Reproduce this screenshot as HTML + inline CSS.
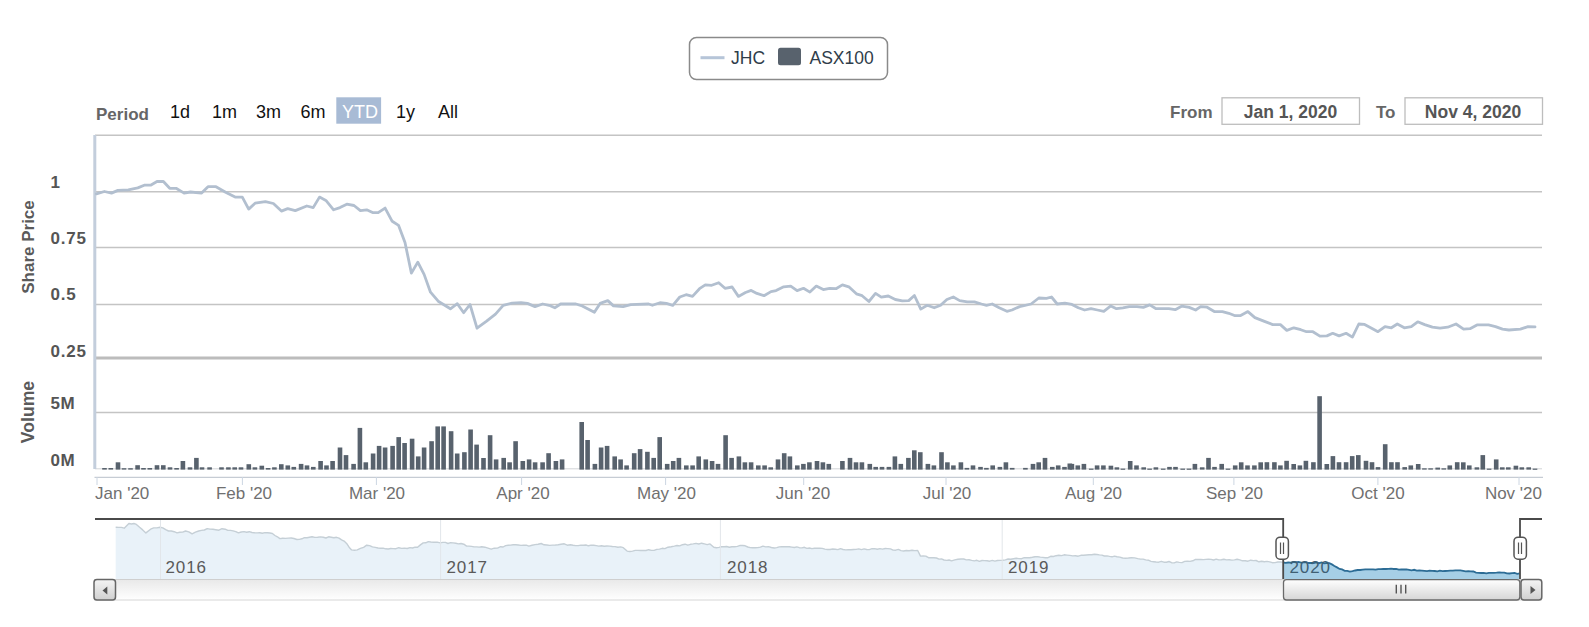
<!DOCTYPE html>
<html><head><meta charset="utf-8"><style>
html,body{margin:0;padding:0;background:#fff;}
body{width:1589px;height:627px;overflow:hidden;position:relative;font-family:"Liberation Sans", sans-serif;}
svg{position:absolute;left:0;top:0;}
text{font-family:"Liberation Sans", sans-serif;}
</style></head><body>
<svg width="1589" height="627" viewBox="0 0 1589 627">
<defs>
<linearGradient id="sbg" x1="0" y1="0" x2="0" y2="1"><stop offset="0" stop-color="#e8e8e8"/><stop offset="1" stop-color="#ffffff"/></linearGradient>
<linearGradient id="thumb" x1="0" y1="0" x2="0" y2="1"><stop offset="0" stop-color="#ffffff"/><stop offset="1" stop-color="#d6d6d6"/></linearGradient>
<linearGradient id="btn" x1="0" y1="0" x2="0" y2="1"><stop offset="0" stop-color="#f4f4f4"/><stop offset="1" stop-color="#d0d0d0"/></linearGradient>
</defs>
<!-- legend -->
<rect x="689.5" y="37.5" width="198" height="42" rx="7" ry="7" fill="#fff" stroke="#8a8a8a" stroke-width="1.5"/>
<line x1="700.5" y1="57.7" x2="724.5" y2="57.7" stroke="#b6c5d8" stroke-width="3"/>
<text x="731" y="64" font-size="17.5" fill="#2f3d4a">JHC</text>
<rect x="778" y="47.7" width="23" height="17.6" rx="2.5" fill="#58626d"/>
<text x="809.5" y="64" font-size="17.5" fill="#2f3d4a">ASX100</text>
<!-- range selector -->
<text x="96" y="119.5" font-size="17" font-weight="bold" fill="#666">Period</text>
<rect x="336.3" y="97.3" width="44.8" height="26.4" fill="#a8bbd5"/>
<text x="170" y="117.7" font-size="18" fill="#111">1d</text>
<text x="212" y="117.7" font-size="18" fill="#111">1m</text>
<text x="256" y="117.7" font-size="18" fill="#111">3m</text>
<text x="300.5" y="117.7" font-size="18" fill="#111">6m</text>
<text x="342" y="117.7" font-size="18" fill="#fff">YTD</text>
<text x="396" y="117.7" font-size="18" fill="#111">1y</text>
<text x="438" y="117.7" font-size="18" fill="#111">All</text>
<text x="1170" y="117.8" font-size="17" font-weight="bold" fill="#666">From</text>
<rect x="1222" y="97.8" width="137.5" height="26.5" fill="#fff" stroke="#bdbdbd" stroke-width="1.3"/>
<text x="1290.5" y="117.8" font-size="17.5" font-weight="bold" fill="#555" text-anchor="middle">Jan 1, 2020</text>
<text x="1376" y="117.8" font-size="17" font-weight="bold" fill="#666">To</text>
<rect x="1405" y="97.8" width="137.5" height="26.5" fill="#fff" stroke="#bdbdbd" stroke-width="1.3"/>
<text x="1473" y="117.8" font-size="17.5" font-weight="bold" fill="#555" text-anchor="middle">Nov 4, 2020</text>
<!-- plot frame & grid -->
<line x1="95" y1="135.2" x2="1542" y2="135.2" stroke="#c4c4c4" stroke-width="1.5"/>
<line x1="95" y1="191.8" x2="1542" y2="191.8" stroke="#c4c4c4" stroke-width="1.5"/>
<line x1="95" y1="247.6" x2="1542" y2="247.6" stroke="#c4c4c4" stroke-width="1.5"/>
<line x1="95" y1="304.5" x2="1542" y2="304.5" stroke="#c4c4c4" stroke-width="1.5"/>
<line x1="95" y1="358" x2="1542" y2="358" stroke="#bcbcbc" stroke-width="3"/>
<line x1="95" y1="412.6" x2="1542" y2="412.6" stroke="#c4c4c4" stroke-width="1.5"/>
<line x1="95" y1="468.8" x2="1542" y2="468.8" stroke="#d2d4d8" stroke-width="1"/>
<line x1="94.8" y1="135" x2="94.8" y2="469" stroke="#c3cedc" stroke-width="3"/>
<!-- price line -->
<polyline points="96.4,193.9 104.4,191.5 111.5,193.1 117.9,190.4 128.3,189.9 137.8,187.9 144.2,185.2 150.6,185.2 157.0,181.5 163.4,181.5 169.7,188.3 176.1,188.3 184.1,193.1 190.5,192.0 201.6,193.1 208.0,186.7 216.0,186.7 225.6,192.3 235.1,197.1 242.3,197.1 248.7,209.1 255.1,203.2 265.4,201.6 273.4,203.5 281.4,211.1 287.7,208.6 295.3,210.6 306.8,206.0 313.2,207.6 319.5,197.1 325.9,200.4 333.6,209.8 340.0,207.6 346.8,204.2 354.0,205.5 360.4,210.6 366.7,209.8 373.1,212.7 378.2,212.7 385.1,208.1 392.2,221.3 398.6,225.4 405.0,242.5 411.4,273.1 417.8,262.1 424.1,274.4 430.5,292.2 438.2,301.2 450.4,308.8 457.3,303.7 463.7,312.7 470.0,304.5 477.0,328.2 486.6,321.2 495.5,314.2 503.2,305.3 512.1,303.1 521.0,302.7 527.4,303.4 535.0,306.6 542.7,304.0 549.1,305.3 554.8,307.8 560.6,304.0 575.9,304.0 582.2,305.9 594.4,312.3 600.1,303.4 607.8,300.6 613.5,305.9 623.1,306.6 630.7,304.6 648.6,304.0 652.4,305.3 660.0,302.7 666.4,303.4 672.8,305.3 679.8,297.0 686.1,294.7 692.5,296.4 699.5,288.7 705.3,284.9 711.7,285.3 718.7,282.7 725.0,288.3 732.1,287.0 738.4,296.4 745.5,292.5 751.2,290.4 756.9,293.4 764.0,295.7 771.0,291.6 776.1,290.6 783.7,286.8 790.7,286.1 797.1,290.6 803.5,288.3 809.9,292.1 816.3,286.1 823.3,289.6 829.6,288.3 836.0,288.7 842.4,284.9 848.8,286.8 856.4,293.8 862.1,295.7 868.9,301.5 875.5,293.4 881.3,297.2 888.3,296.0 895.3,299.5 902.3,300.8 908.7,300.6 914.4,295.5 920.8,309.1 927.2,305.3 934.2,307.8 940.6,305.3 946.9,299.5 953.3,297.0 959.7,300.6 967.3,301.8 974.4,301.8 981.4,304.0 986.5,305.3 992.2,304.0 999.2,307.8 1006.9,311.3 1012.0,310.0 1019.6,306.6 1031.1,304.0 1038.8,298.0 1046.4,298.3 1051.5,297.0 1057.2,304.0 1064.9,303.1 1071.9,304.4 1078.3,307.8 1084.6,310.0 1091.0,308.7 1097.4,310.0 1103.8,311.3 1110.8,305.9 1116.5,308.7 1122.9,307.8 1129.3,306.6 1136.9,306.6 1143.3,307.4 1149.7,304.9 1156.1,308.7 1168.8,308.7 1175.2,309.7 1181.6,306.2 1189.2,307.4 1195.6,310.0 1200.7,306.6 1207.1,307.2 1214.7,311.7 1222.4,311.7 1228.8,313.3 1235.1,315.7 1240.2,315.7 1247.9,311.6 1254.9,317.6 1263.8,321.1 1272.7,324.6 1280.4,324.6 1286.8,330.4 1293.8,327.8 1300.8,329.7 1306.5,331.7 1312.9,331.7 1319.9,336.1 1326.9,335.9 1332.7,333.3 1339.1,335.9 1346.1,333.3 1352.4,337.1 1358.8,324.0 1364.6,324.4 1371.6,328.2 1378.0,331.7 1385.0,326.6 1391.4,327.8 1397.3,324.0 1404.3,327.8 1411.3,326.6 1417.7,321.8 1424.7,324.6 1432.4,327.2 1440.0,328.2 1447.7,327.2 1456.0,324.0 1463.6,329.1 1470.0,328.7 1477.0,324.9 1488.5,324.9 1495.5,326.6 1502.5,329.1 1508.9,330.0 1520.4,329.1 1528.0,326.6 1535.0,326.9" fill="none" stroke="#b2bfcf" stroke-width="2.8" stroke-linejoin="round" stroke-linecap="round"/>
<!-- volume -->
<g fill="#58626d"><rect x="102.2" y="468.0" width="4.6" height="1.6"/><rect x="108.5" y="468.0" width="4.6" height="1.6"/><rect x="115.7" y="462.3" width="4.6" height="7.3"/><rect x="121.7" y="468.2" width="4.6" height="1.4"/><rect x="128.2" y="468.2" width="4.6" height="1.4"/><rect x="135.3" y="465.2" width="4.6" height="4.4"/><rect x="141.2" y="468.0" width="4.6" height="1.6"/><rect x="147.5" y="468.0" width="4.6" height="1.6"/><rect x="154.7" y="465.2" width="4.6" height="4.4"/><rect x="161.0" y="465.2" width="4.6" height="4.4"/><rect x="167.7" y="467.3" width="4.6" height="2.3"/><rect x="174.3" y="468.0" width="4.6" height="1.6"/><rect x="180.6" y="461.0" width="4.6" height="8.6"/><rect x="187.7" y="467.3" width="4.6" height="2.3"/><rect x="194.1" y="457.9" width="4.6" height="11.7"/><rect x="199.7" y="467.3" width="4.6" height="2.3"/><rect x="207.3" y="467.3" width="4.6" height="2.3"/><rect x="219.2" y="467.3" width="4.6" height="2.3"/><rect x="226.1" y="467.3" width="4.6" height="2.3"/><rect x="232.4" y="467.3" width="4.6" height="2.3"/><rect x="238.7" y="467.3" width="4.6" height="2.3"/><rect x="246.5" y="464.2" width="4.6" height="5.4"/><rect x="252.6" y="467.3" width="4.6" height="2.3"/><rect x="259.5" y="465.7" width="4.6" height="3.9"/><rect x="265.8" y="468.0" width="4.6" height="1.6"/><rect x="272.1" y="467.3" width="4.6" height="2.3"/><rect x="279.0" y="464.2" width="4.6" height="5.4"/><rect x="285.5" y="465.4" width="4.6" height="4.2"/><rect x="291.5" y="466.9" width="4.6" height="2.7"/><rect x="298.8" y="463.9" width="4.6" height="5.7"/><rect x="304.7" y="465.4" width="4.6" height="4.2"/><rect x="311.0" y="466.9" width="4.6" height="2.7"/><rect x="318.3" y="461.0" width="4.6" height="8.6"/><rect x="324.2" y="465.4" width="4.6" height="4.2"/><rect x="330.3" y="461.0" width="4.6" height="8.6"/><rect x="337.7" y="447.5" width="4.6" height="22.1"/><rect x="343.7" y="455.1" width="4.6" height="14.5"/><rect x="351.3" y="463.9" width="4.6" height="5.7"/><rect x="357.6" y="427.9" width="4.6" height="41.7"/><rect x="363.5" y="462.3" width="4.6" height="7.3"/><rect x="370.8" y="453.5" width="4.6" height="16.1"/><rect x="376.8" y="445.9" width="4.6" height="23.7"/><rect x="382.8" y="447.5" width="4.6" height="22.1"/><rect x="390.3" y="445.9" width="4.6" height="23.7"/><rect x="396.4" y="437.1" width="4.6" height="32.5"/><rect x="402.3" y="443.0" width="4.6" height="26.6"/><rect x="409.8" y="438.7" width="4.6" height="30.9"/><rect x="415.9" y="456.4" width="4.6" height="13.2"/><rect x="421.8" y="447.5" width="4.6" height="22.1"/><rect x="429.3" y="441.2" width="4.6" height="28.4"/><rect x="435.4" y="426.4" width="4.6" height="43.2"/><rect x="441.3" y="426.4" width="4.6" height="43.2"/><rect x="448.8" y="431.2" width="4.6" height="38.4"/><rect x="454.9" y="453.5" width="4.6" height="16.1"/><rect x="462.1" y="452.2" width="4.6" height="17.4"/><rect x="468.3" y="429.5" width="4.6" height="40.1"/><rect x="474.3" y="444.6" width="4.6" height="25.0"/><rect x="481.2" y="458.0" width="4.6" height="11.6"/><rect x="487.8" y="435.2" width="4.6" height="34.4"/><rect x="493.8" y="459.4" width="4.6" height="10.2"/><rect x="501.4" y="457.9" width="4.6" height="11.7"/><rect x="507.3" y="462.3" width="4.6" height="7.3"/><rect x="513.3" y="441.2" width="4.6" height="28.4"/><rect x="520.5" y="461.0" width="4.6" height="8.6"/><rect x="526.8" y="459.4" width="4.6" height="10.2"/><rect x="532.8" y="462.3" width="4.6" height="7.3"/><rect x="540.3" y="462.3" width="4.6" height="7.3"/><rect x="546.3" y="453.2" width="4.6" height="16.4"/><rect x="553.6" y="461.0" width="4.6" height="8.6"/><rect x="559.8" y="459.4" width="4.6" height="10.2"/><rect x="579.4" y="422.0" width="4.6" height="47.6"/><rect x="585.3" y="440.0" width="4.6" height="29.6"/><rect x="592.6" y="463.9" width="4.6" height="5.7"/><rect x="598.8" y="447.5" width="4.6" height="22.1"/><rect x="604.8" y="445.9" width="4.6" height="23.7"/><rect x="612.4" y="456.4" width="4.6" height="13.2"/><rect x="618.3" y="459.4" width="4.6" height="10.2"/><rect x="624.3" y="465.4" width="4.6" height="4.2"/><rect x="631.9" y="453.2" width="4.6" height="16.4"/><rect x="637.8" y="449.1" width="4.6" height="20.5"/><rect x="645.1" y="451.8" width="4.6" height="17.8"/><rect x="651.4" y="457.9" width="4.6" height="11.7"/><rect x="657.4" y="437.1" width="4.6" height="32.5"/><rect x="664.9" y="463.9" width="4.6" height="5.7"/><rect x="670.9" y="461.0" width="4.6" height="8.6"/><rect x="676.6" y="457.9" width="4.6" height="11.7"/><rect x="684.0" y="465.4" width="4.6" height="4.2"/><rect x="690.3" y="465.4" width="4.6" height="4.2"/><rect x="696.4" y="456.4" width="4.6" height="13.2"/><rect x="703.5" y="459.4" width="4.6" height="10.2"/><rect x="709.8" y="461.0" width="4.6" height="8.6"/><rect x="715.7" y="463.9" width="4.6" height="5.7"/><rect x="723.3" y="435.2" width="4.6" height="34.4"/><rect x="729.3" y="457.9" width="4.6" height="11.7"/><rect x="736.6" y="456.4" width="4.6" height="13.2"/><rect x="742.6" y="462.3" width="4.6" height="7.3"/><rect x="748.8" y="462.3" width="4.6" height="7.3"/><rect x="756.0" y="465.4" width="4.6" height="4.2"/><rect x="762.3" y="465.4" width="4.6" height="4.2"/><rect x="768.4" y="467.3" width="4.6" height="2.3"/><rect x="775.7" y="459.4" width="4.6" height="10.2"/><rect x="781.9" y="453.2" width="4.6" height="16.4"/><rect x="787.6" y="456.4" width="4.6" height="13.2"/><rect x="795.0" y="465.4" width="4.6" height="4.2"/><rect x="801.1" y="463.9" width="4.6" height="5.7"/><rect x="807.1" y="462.3" width="4.6" height="7.3"/><rect x="814.7" y="461.0" width="4.6" height="8.6"/><rect x="820.6" y="462.3" width="4.6" height="7.3"/><rect x="826.5" y="463.9" width="4.6" height="5.7"/><rect x="840.1" y="461.0" width="4.6" height="8.6"/><rect x="847.7" y="457.9" width="4.6" height="11.7"/><rect x="853.7" y="462.3" width="4.6" height="7.3"/><rect x="859.6" y="462.3" width="4.6" height="7.3"/><rect x="867.5" y="463.9" width="4.6" height="5.7"/><rect x="873.4" y="466.9" width="4.6" height="2.7"/><rect x="879.7" y="466.9" width="4.6" height="2.7"/><rect x="886.6" y="466.9" width="4.6" height="2.7"/><rect x="892.6" y="456.4" width="4.6" height="13.2"/><rect x="898.5" y="463.9" width="4.6" height="5.7"/><rect x="906.1" y="457.9" width="4.6" height="11.7"/><rect x="912.0" y="450.3" width="4.6" height="19.3"/><rect x="918.0" y="452.2" width="4.6" height="17.4"/><rect x="925.6" y="463.9" width="4.6" height="5.7"/><rect x="931.6" y="465.4" width="4.6" height="4.2"/><rect x="939.2" y="452.2" width="4.6" height="17.4"/><rect x="945.1" y="462.3" width="4.6" height="7.3"/><rect x="951.1" y="465.4" width="4.6" height="4.2"/><rect x="958.6" y="462.3" width="4.6" height="7.3"/><rect x="964.6" y="467.9" width="4.6" height="1.7"/><rect x="970.7" y="465.4" width="4.6" height="4.2"/><rect x="978.2" y="466.9" width="4.6" height="2.7"/><rect x="984.1" y="467.9" width="4.6" height="1.7"/><rect x="990.4" y="465.4" width="4.6" height="4.2"/><rect x="997.6" y="466.9" width="4.6" height="2.7"/><rect x="1003.6" y="462.3" width="4.6" height="7.3"/><rect x="1009.9" y="467.9" width="4.6" height="1.7"/><rect x="1023.1" y="467.9" width="4.6" height="1.7"/><rect x="1030.7" y="463.9" width="4.6" height="5.7"/><rect x="1036.4" y="462.3" width="4.6" height="7.3"/><rect x="1042.7" y="457.9" width="4.6" height="11.7"/><rect x="1050.0" y="466.9" width="4.6" height="2.7"/><rect x="1055.9" y="465.4" width="4.6" height="4.2"/><rect x="1062.2" y="466.9" width="4.6" height="2.7"/><rect x="1067.5" y="463.5" width="4.6" height="6.1"/><rect x="1069.6" y="463.9" width="4.6" height="5.7"/><rect x="1075.5" y="465.4" width="4.6" height="4.2"/><rect x="1081.6" y="463.9" width="4.6" height="5.7"/><rect x="1088.9" y="468.6" width="4.6" height="1.2"/><rect x="1094.8" y="465.4" width="4.6" height="4.2"/><rect x="1101.1" y="465.4" width="4.6" height="4.2"/><rect x="1108.6" y="465.7" width="4.6" height="3.9"/><rect x="1114.6" y="467.3" width="4.6" height="2.3"/><rect x="1120.6" y="468.6" width="4.6" height="1.2"/><rect x="1127.9" y="461.0" width="4.6" height="8.6"/><rect x="1134.2" y="465.4" width="4.6" height="4.2"/><rect x="1141.4" y="467.3" width="4.6" height="2.3"/><rect x="1147.3" y="468.6" width="4.6" height="1.2"/><rect x="1153.6" y="467.3" width="4.6" height="2.3"/><rect x="1160.9" y="468.6" width="4.6" height="1.2"/><rect x="1167.2" y="466.9" width="4.6" height="2.7"/><rect x="1173.2" y="466.9" width="4.6" height="2.7"/><rect x="1180.4" y="468.6" width="4.6" height="1.2"/><rect x="1186.7" y="468.6" width="4.6" height="1.2"/><rect x="1192.6" y="463.9" width="4.6" height="5.7"/><rect x="1199.9" y="467.3" width="4.6" height="2.3"/><rect x="1206.2" y="457.9" width="4.6" height="11.7"/><rect x="1212.2" y="466.9" width="4.6" height="2.7"/><rect x="1219.4" y="463.9" width="4.6" height="5.7"/><rect x="1225.7" y="468.6" width="4.6" height="1.2"/><rect x="1232.9" y="465.4" width="4.6" height="4.2"/><rect x="1238.9" y="462.3" width="4.6" height="7.3"/><rect x="1245.2" y="465.4" width="4.6" height="4.2"/><rect x="1252.1" y="465.4" width="4.6" height="4.2"/><rect x="1258.4" y="462.3" width="4.6" height="7.3"/><rect x="1264.6" y="462.2" width="4.6" height="7.4"/><rect x="1272.1" y="462.2" width="4.6" height="7.4"/><rect x="1278.1" y="465.4" width="4.6" height="4.2"/><rect x="1284.3" y="460.8" width="4.6" height="8.8"/><rect x="1291.4" y="464.0" width="4.6" height="5.6"/><rect x="1297.6" y="465.4" width="4.6" height="4.2"/><rect x="1303.6" y="460.8" width="4.6" height="8.8"/><rect x="1311.1" y="462.2" width="4.6" height="7.4"/><rect x="1317.3" y="396.2" width="4.6" height="73.4"/><rect x="1324.5" y="464.0" width="4.6" height="5.6"/><rect x="1330.6" y="456.1" width="4.6" height="13.5"/><rect x="1336.7" y="462.2" width="4.6" height="7.4"/><rect x="1343.8" y="462.2" width="4.6" height="7.4"/><rect x="1349.9" y="456.1" width="4.6" height="13.5"/><rect x="1356.0" y="455.1" width="4.6" height="14.5"/><rect x="1363.7" y="460.8" width="4.6" height="8.8"/><rect x="1369.7" y="462.2" width="4.6" height="7.4"/><rect x="1375.7" y="467.1" width="4.6" height="2.5"/><rect x="1382.9" y="444.2" width="4.6" height="25.4"/><rect x="1389.1" y="462.2" width="4.6" height="7.4"/><rect x="1395.2" y="462.2" width="4.6" height="7.4"/><rect x="1402.4" y="467.1" width="4.6" height="2.5"/><rect x="1408.5" y="465.4" width="4.6" height="4.2"/><rect x="1415.9" y="464.0" width="4.6" height="5.6"/><rect x="1422.1" y="468.3" width="4.6" height="1.3"/><rect x="1428.3" y="468.3" width="4.6" height="1.3"/><rect x="1435.4" y="467.6" width="4.6" height="2.0"/><rect x="1441.5" y="468.3" width="4.6" height="1.3"/><rect x="1447.5" y="465.4" width="4.6" height="4.2"/><rect x="1454.9" y="462.2" width="4.6" height="7.4"/><rect x="1461.0" y="462.3" width="4.6" height="7.3"/><rect x="1467.0" y="465.4" width="4.6" height="4.2"/><rect x="1474.6" y="467.3" width="4.6" height="2.3"/><rect x="1480.5" y="455.1" width="4.6" height="14.5"/><rect x="1486.8" y="468.6" width="4.6" height="1.2"/><rect x="1493.9" y="459.4" width="4.6" height="10.2"/><rect x="1500.0" y="467.3" width="4.6" height="2.3"/><rect x="1506.0" y="467.3" width="4.6" height="2.3"/><rect x="1513.6" y="465.7" width="4.6" height="3.9"/><rect x="1519.5" y="467.3" width="4.6" height="2.3"/><rect x="1526.4" y="467.3" width="4.6" height="2.3"/><rect x="1532.7" y="468.6" width="4.6" height="1.2"/></g>
<!-- y labels -->
<g font-size="17" font-weight="bold" fill="#555">
<text x="50.5" y="188">1</text>
<text x="50.5" y="244.2" letter-spacing="0.8">0.75</text>
<text x="50.5" y="300" letter-spacing="0.8">0.5</text>
<text x="50.5" y="356.6" letter-spacing="0.8">0.25</text>
<text x="50.5" y="409.2" letter-spacing="0.5">5M</text>
<text x="50.5" y="466" letter-spacing="0.5">0M</text>
</g>
<text transform="translate(34,247) rotate(-90)" font-size="17" font-weight="bold" fill="#5a5a5a" text-anchor="middle">Share Price</text>
<text transform="translate(34,412) rotate(-90)" font-size="17.6" font-weight="bold" fill="#5a5a5a" text-anchor="middle">Volume</text>
<!-- x axis -->
<line x1="94.5" y1="477.4" x2="1543" y2="477.4" stroke="#c6ccd4" stroke-width="1.4"/>
<g stroke="#ccd6e2" stroke-width="1">
<line x1="97" y1="477" x2="97" y2="485"/><line x1="242.4" y1="477" x2="242.4" y2="485"/><line x1="376.4" y1="477" x2="376.4" y2="485"/><line x1="521.6" y1="477" x2="521.6" y2="485"/><line x1="665.6" y1="477" x2="665.6" y2="485"/><line x1="803.7" y1="477" x2="803.7" y2="485"/><line x1="946" y1="477" x2="946" y2="485"/><line x1="1093.3" y1="477" x2="1093.3" y2="485"/><line x1="1233.9" y1="477" x2="1233.9" y2="485"/><line x1="1377.9" y1="477" x2="1377.9" y2="485"/><line x1="1519" y1="477" x2="1519" y2="485"/>
</g>
<g font-size="17" fill="#707070" text-anchor="middle">
<text x="95" y="499" text-anchor="start">Jan '20</text>
<text x="244" y="499">Feb '20</text>
<text x="377" y="499">Mar '20</text>
<text x="523" y="499">Apr '20</text>
<text x="666.5" y="499">May '20</text>
<text x="803" y="499">Jun '20</text>
<text x="947" y="499">Jul '20</text>
<text x="1093.5" y="499">Aug '20</text>
<text x="1234.5" y="499">Sep '20</text>
<text x="1378" y="499">Oct '20</text>
<text x="1542" y="499" text-anchor="end">Nov '20</text>
</g>
<!-- navigator -->
<path d="M115.7,579 L115.7,527.3 L118.5,527.4 L121.4,527.4 L124.2,528.2 L128.9,523.5 L131.4,524.0 L133.9,523.5 L136.4,524.4 L139.6,527.3 L142.7,529.9 L145.9,532.9 L150.6,529.2 L153.7,527.9 L156.9,527.9 L160.0,527.3 L162.8,527.9 L165.7,529.7 L168.5,531.0 L171.3,531.0 L174.2,531.7 L177.0,532.9 L179.8,532.2 L182.7,532.1 L185.5,531.0 L188.8,531.9 L192.1,533.9 L195.4,532.1 L198.7,531.0 L201.5,530.4 L204.4,530.0 L207.2,528.6 L210.0,529.1 L212.9,529.2 L215.7,529.7 L218.9,530.2 L222.0,528.7 L225.2,529.2 L227.8,530.4 L230.5,530.4 L233.1,530.9 L235.8,531.6 L238.4,532.9 L241.2,532.0 L244.0,531.6 L246.7,532.3 L249.3,531.7 L252.0,532.5 L254.6,532.8 L257.3,532.9 L259.8,532.8 L262.3,533.2 L264.9,532.6 L267.4,532.7 L269.9,533.0 L272.4,533.5 L274.9,535.5 L277.4,536.8 L279.9,538.6 L282.7,538.2 L285.5,538.4 L288.4,538.1 L291.2,538.0 L294.0,538.5 L296.9,539.5 L299.4,539.4 L301.9,538.8 L304.4,537.7 L307.0,537.7 L309.5,537.2 L312.0,536.7 L314.8,537.4 L317.6,537.3 L320.5,536.9 L323.3,537.3 L325.9,538.0 L328.6,536.8 L331.2,537.2 L333.9,537.7 L336.5,537.3 L339.0,538.1 L341.6,539.8 L344.1,541.1 L346.6,543.4 L349.1,547.2 L351.6,549.9 L354.5,550.3 L357.3,549.9 L360.4,548.4 L363.6,547.3 L366.7,545.2 L369.6,545.6 L372.4,546.9 L375.2,547.4 L378.1,548.0 L380.6,548.2 L383.1,548.1 L385.6,548.8 L388.2,549.0 L390.7,548.5 L393.2,548.6 L396.0,548.7 L398.8,547.7 L401.6,548.4 L404.4,548.1 L407.2,548.5 L410.0,547.6 L412.5,548.0 L415.1,547.1 L417.6,547.3 L420.4,544.9 L423.2,542.9 L425.7,542.8 L428.3,541.6 L430.8,542.0 L433.9,542.2 L437.1,542.1 L440.2,542.9 L442.8,542.4 L445.4,542.4 L448.0,543.5 L450.6,542.7 L453.2,542.9 L455.8,543.2 L458.4,543.9 L461.0,543.5 L463.8,544.2 L466.6,546.1 L469.1,546.1 L471.6,546.4 L474.1,546.9 L476.7,546.9 L479.2,547.1 L481.7,546.7 L484.9,547.2 L488.0,548.2 L491.2,549.2 L494.3,548.2 L497.5,548.1 L500.6,546.7 L503.1,547.0 L505.6,545.6 L508.2,545.3 L510.7,545.1 L513.2,544.7 L515.7,544.8 L518.3,545.0 L521.0,545.4 L523.6,545.2 L526.3,545.1 L528.9,546.1 L532.0,545.3 L535.0,544.6 L538.1,544.2 L541.2,543.5 L544.0,544.8 L546.9,545.0 L549.7,545.4 L552.5,545.1 L555.4,545.0 L558.2,544.8 L561.0,544.3 L564.2,543.8 L567.3,545.2 L570.5,544.8 L573.1,545.3 L575.6,545.6 L578.2,545.6 L580.8,545.1 L583.4,545.2 L585.9,545.0 L588.5,545.8 L591.1,545.1 L593.7,545.3 L596.2,545.6 L598.8,546.1 L601.5,545.8 L604.2,546.2 L607.0,546.0 L609.7,546.1 L612.4,546.5 L615.1,546.6 L617.9,547.2 L620.6,546.9 L623.3,547.7 L627.1,551.1 L629.8,551.5 L632.5,551.1 L635.2,550.4 L637.9,550.4 L640.6,550.5 L643.3,550.4 L646.0,550.5 L648.7,549.7 L651.4,550.4 L654.1,550.4 L656.8,549.4 L659.5,549.1 L662.2,548.3 L664.9,548.6 L668.0,547.2 L671.2,546.7 L674.3,546.1 L677.0,545.5 L679.7,545.9 L682.4,544.7 L685.1,544.2 L687.8,545.2 L690.5,544.3 L693.2,543.9 L696.0,543.4 L698.8,544.0 L701.6,543.2 L704.4,543.9 L707.2,544.6 L710.0,543.9 L713.8,547.3 L716.4,547.7 L719.0,547.4 L721.6,546.7 L724.1,546.8 L726.7,546.5 L729.3,547.2 L731.9,546.8 L734.5,546.7 L737.4,546.4 L740.2,545.4 L742.7,545.5 L745.2,545.8 L747.8,547.0 L750.3,547.6 L752.8,547.8 L755.3,547.7 L757.8,547.6 L760.4,547.1 L762.9,546.1 L765.7,546.9 L768.5,546.7 L771.4,547.5 L774.2,548.0 L776.7,547.6 L779.2,546.9 L781.8,546.7 L784.3,546.8 L786.8,546.6 L789.3,546.7 L791.8,547.1 L794.3,547.5 L796.8,546.9 L799.4,547.7 L801.9,547.9 L804.4,547.3 L806.9,548.4 L809.4,548.0 L811.9,548.6 L814.5,548.3 L817.1,548.3 L819.7,548.3 L822.3,548.4 L824.9,549.1 L827.5,549.5 L830.1,549.5 L832.7,549.0 L835.3,549.3 L837.9,549.6 L840.5,548.6 L843.1,549.5 L845.7,549.9 L848.3,549.8 L850.9,549.8 L853.5,549.5 L856.1,549.4 L858.8,548.9 L861.4,549.6 L864.1,548.9 L866.7,549.5 L869.3,549.6 L872.0,548.7 L874.6,548.6 L877.3,549.3 L879.9,548.6 L882.5,549.1 L885.2,548.5 L887.8,548.6 L890.5,548.9 L893.1,550.1 L895.7,550.2 L898.4,549.4 L901.0,550.6 L903.7,551.0 L906.3,550.5 L909.1,550.7 L912.0,550.3 L914.9,550.6 L917.7,550.5 L920.5,556.1 L923.2,555.9 L925.8,556.1 L928.5,557.7 L931.2,557.6 L933.8,557.7 L936.5,558.0 L939.0,559.1 L941.5,558.9 L944.0,560.0 L946.6,560.4 L949.1,560.0 L951.6,560.9 L954.8,559.9 L957.9,559.3 L961.1,559.0 L963.7,559.0 L966.4,559.9 L969.0,559.8 L971.7,560.4 L974.3,560.9 L976.9,560.3 L979.4,561.4 L982.0,560.5 L984.6,560.6 L987.1,560.8 L989.7,561.2 L992.3,560.4 L994.9,561.1 L997.4,560.5 L1000.0,560.4 L1002.7,560.2 L1005.4,559.9 L1008.1,559.0 L1010.8,559.3 L1013.5,558.7 L1016.2,558.2 L1018.9,558.6 L1021.6,558.7 L1024.3,557.6 L1027.0,557.7 L1029.7,557.8 L1032.4,557.3 L1035.1,556.7 L1037.8,556.7 L1040.3,557.1 L1042.8,557.4 L1045.3,557.7 L1048.0,557.7 L1050.7,556.3 L1053.4,556.5 L1056.1,555.7 L1058.8,555.3 L1061.5,555.6 L1064.2,554.8 L1067.0,555.1 L1069.8,555.4 L1072.7,555.9 L1075.5,555.8 L1078.2,556.2 L1080.9,555.3 L1083.6,555.3 L1086.3,555.0 L1089.0,554.7 L1091.7,554.8 L1094.4,554.3 L1096.9,554.5 L1099.4,554.9 L1101.9,555.1 L1104.4,556.0 L1107.0,555.9 L1109.5,556.4 L1112.0,556.8 L1114.5,556.1 L1117.0,556.7 L1119.8,557.1 L1122.7,558.0 L1125.6,558.2 L1128.4,558.0 L1131.5,557.7 L1134.7,557.9 L1137.8,558.6 L1140.4,559.1 L1143.1,559.1 L1145.7,559.9 L1148.4,560.2 L1151.0,561.4 L1153.6,561.7 L1156.1,562.0 L1158.7,562.2 L1161.3,561.3 L1163.9,562.2 L1166.4,562.2 L1169.0,561.5 L1171.6,562.7 L1174.2,562.9 L1176.7,561.9 L1179.3,562.4 L1182.0,562.6 L1184.7,561.4 L1187.4,561.1 L1190.1,561.4 L1192.8,560.8 L1195.5,559.4 L1198.2,559.5 L1200.8,559.4 L1203.3,559.6 L1205.9,559.4 L1208.5,559.2 L1211.1,559.4 L1213.6,560.0 L1216.2,559.1 L1218.8,559.9 L1221.4,559.7 L1223.9,559.2 L1226.5,559.9 L1229.2,559.7 L1231.8,560.1 L1234.5,559.9 L1237.1,559.3 L1239.8,559.9 L1242.5,560.8 L1245.2,560.7 L1248.0,561.2 L1250.7,560.2 L1253.4,560.6 L1256.1,560.5 L1258.9,561.8 L1261.6,561.3 L1264.3,561.8 L1267.0,561.4 L1269.7,561.9 L1272.4,562.7 L1275.1,562.6 L1277.8,562.0 L1280.5,561.9 L1283.2,562.5 L1283.2,579 Z" fill="#e9f2f9"/>
<polyline points="115.7,527.3 118.5,527.4 121.4,527.4 124.2,528.2 128.9,523.5 131.4,524.0 133.9,523.5 136.4,524.4 139.6,527.3 142.7,529.9 145.9,532.9 150.6,529.2 153.7,527.9 156.9,527.9 160.0,527.3 162.8,527.9 165.7,529.7 168.5,531.0 171.3,531.0 174.2,531.7 177.0,532.9 179.8,532.2 182.7,532.1 185.5,531.0 188.8,531.9 192.1,533.9 195.4,532.1 198.7,531.0 201.5,530.4 204.4,530.0 207.2,528.6 210.0,529.1 212.9,529.2 215.7,529.7 218.9,530.2 222.0,528.7 225.2,529.2 227.8,530.4 230.5,530.4 233.1,530.9 235.8,531.6 238.4,532.9 241.2,532.0 244.0,531.6 246.7,532.3 249.3,531.7 252.0,532.5 254.6,532.8 257.3,532.9 259.8,532.8 262.3,533.2 264.9,532.6 267.4,532.7 269.9,533.0 272.4,533.5 274.9,535.5 277.4,536.8 279.9,538.6 282.7,538.2 285.5,538.4 288.4,538.1 291.2,538.0 294.0,538.5 296.9,539.5 299.4,539.4 301.9,538.8 304.4,537.7 307.0,537.7 309.5,537.2 312.0,536.7 314.8,537.4 317.6,537.3 320.5,536.9 323.3,537.3 325.9,538.0 328.6,536.8 331.2,537.2 333.9,537.7 336.5,537.3 339.0,538.1 341.6,539.8 344.1,541.1 346.6,543.4 349.1,547.2 351.6,549.9 354.5,550.3 357.3,549.9 360.4,548.4 363.6,547.3 366.7,545.2 369.6,545.6 372.4,546.9 375.2,547.4 378.1,548.0 380.6,548.2 383.1,548.1 385.6,548.8 388.2,549.0 390.7,548.5 393.2,548.6 396.0,548.7 398.8,547.7 401.6,548.4 404.4,548.1 407.2,548.5 410.0,547.6 412.5,548.0 415.1,547.1 417.6,547.3 420.4,544.9 423.2,542.9 425.7,542.8 428.3,541.6 430.8,542.0 433.9,542.2 437.1,542.1 440.2,542.9 442.8,542.4 445.4,542.4 448.0,543.5 450.6,542.7 453.2,542.9 455.8,543.2 458.4,543.9 461.0,543.5 463.8,544.2 466.6,546.1 469.1,546.1 471.6,546.4 474.1,546.9 476.7,546.9 479.2,547.1 481.7,546.7 484.9,547.2 488.0,548.2 491.2,549.2 494.3,548.2 497.5,548.1 500.6,546.7 503.1,547.0 505.6,545.6 508.2,545.3 510.7,545.1 513.2,544.7 515.7,544.8 518.3,545.0 521.0,545.4 523.6,545.2 526.3,545.1 528.9,546.1 532.0,545.3 535.0,544.6 538.1,544.2 541.2,543.5 544.0,544.8 546.9,545.0 549.7,545.4 552.5,545.1 555.4,545.0 558.2,544.8 561.0,544.3 564.2,543.8 567.3,545.2 570.5,544.8 573.1,545.3 575.6,545.6 578.2,545.6 580.8,545.1 583.4,545.2 585.9,545.0 588.5,545.8 591.1,545.1 593.7,545.3 596.2,545.6 598.8,546.1 601.5,545.8 604.2,546.2 607.0,546.0 609.7,546.1 612.4,546.5 615.1,546.6 617.9,547.2 620.6,546.9 623.3,547.7 627.1,551.1 629.8,551.5 632.5,551.1 635.2,550.4 637.9,550.4 640.6,550.5 643.3,550.4 646.0,550.5 648.7,549.7 651.4,550.4 654.1,550.4 656.8,549.4 659.5,549.1 662.2,548.3 664.9,548.6 668.0,547.2 671.2,546.7 674.3,546.1 677.0,545.5 679.7,545.9 682.4,544.7 685.1,544.2 687.8,545.2 690.5,544.3 693.2,543.9 696.0,543.4 698.8,544.0 701.6,543.2 704.4,543.9 707.2,544.6 710.0,543.9 713.8,547.3 716.4,547.7 719.0,547.4 721.6,546.7 724.1,546.8 726.7,546.5 729.3,547.2 731.9,546.8 734.5,546.7 737.4,546.4 740.2,545.4 742.7,545.5 745.2,545.8 747.8,547.0 750.3,547.6 752.8,547.8 755.3,547.7 757.8,547.6 760.4,547.1 762.9,546.1 765.7,546.9 768.5,546.7 771.4,547.5 774.2,548.0 776.7,547.6 779.2,546.9 781.8,546.7 784.3,546.8 786.8,546.6 789.3,546.7 791.8,547.1 794.3,547.5 796.8,546.9 799.4,547.7 801.9,547.9 804.4,547.3 806.9,548.4 809.4,548.0 811.9,548.6 814.5,548.3 817.1,548.3 819.7,548.3 822.3,548.4 824.9,549.1 827.5,549.5 830.1,549.5 832.7,549.0 835.3,549.3 837.9,549.6 840.5,548.6 843.1,549.5 845.7,549.9 848.3,549.8 850.9,549.8 853.5,549.5 856.1,549.4 858.8,548.9 861.4,549.6 864.1,548.9 866.7,549.5 869.3,549.6 872.0,548.7 874.6,548.6 877.3,549.3 879.9,548.6 882.5,549.1 885.2,548.5 887.8,548.6 890.5,548.9 893.1,550.1 895.7,550.2 898.4,549.4 901.0,550.6 903.7,551.0 906.3,550.5 909.1,550.7 912.0,550.3 914.9,550.6 917.7,550.5 920.5,556.1 923.2,555.9 925.8,556.1 928.5,557.7 931.2,557.6 933.8,557.7 936.5,558.0 939.0,559.1 941.5,558.9 944.0,560.0 946.6,560.4 949.1,560.0 951.6,560.9 954.8,559.9 957.9,559.3 961.1,559.0 963.7,559.0 966.4,559.9 969.0,559.8 971.7,560.4 974.3,560.9 976.9,560.3 979.4,561.4 982.0,560.5 984.6,560.6 987.1,560.8 989.7,561.2 992.3,560.4 994.9,561.1 997.4,560.5 1000.0,560.4 1002.7,560.2 1005.4,559.9 1008.1,559.0 1010.8,559.3 1013.5,558.7 1016.2,558.2 1018.9,558.6 1021.6,558.7 1024.3,557.6 1027.0,557.7 1029.7,557.8 1032.4,557.3 1035.1,556.7 1037.8,556.7 1040.3,557.1 1042.8,557.4 1045.3,557.7 1048.0,557.7 1050.7,556.3 1053.4,556.5 1056.1,555.7 1058.8,555.3 1061.5,555.6 1064.2,554.8 1067.0,555.1 1069.8,555.4 1072.7,555.9 1075.5,555.8 1078.2,556.2 1080.9,555.3 1083.6,555.3 1086.3,555.0 1089.0,554.7 1091.7,554.8 1094.4,554.3 1096.9,554.5 1099.4,554.9 1101.9,555.1 1104.4,556.0 1107.0,555.9 1109.5,556.4 1112.0,556.8 1114.5,556.1 1117.0,556.7 1119.8,557.1 1122.7,558.0 1125.6,558.2 1128.4,558.0 1131.5,557.7 1134.7,557.9 1137.8,558.6 1140.4,559.1 1143.1,559.1 1145.7,559.9 1148.4,560.2 1151.0,561.4 1153.6,561.7 1156.1,562.0 1158.7,562.2 1161.3,561.3 1163.9,562.2 1166.4,562.2 1169.0,561.5 1171.6,562.7 1174.2,562.9 1176.7,561.9 1179.3,562.4 1182.0,562.6 1184.7,561.4 1187.4,561.1 1190.1,561.4 1192.8,560.8 1195.5,559.4 1198.2,559.5 1200.8,559.4 1203.3,559.6 1205.9,559.4 1208.5,559.2 1211.1,559.4 1213.6,560.0 1216.2,559.1 1218.8,559.9 1221.4,559.7 1223.9,559.2 1226.5,559.9 1229.2,559.7 1231.8,560.1 1234.5,559.9 1237.1,559.3 1239.8,559.9 1242.5,560.8 1245.2,560.7 1248.0,561.2 1250.7,560.2 1253.4,560.6 1256.1,560.5 1258.9,561.8 1261.6,561.3 1264.3,561.8 1267.0,561.4 1269.7,561.9 1272.4,562.7 1275.1,562.6 1277.8,562.0 1280.5,561.9 1283.2,562.5" fill="none" stroke="#c5cfd6" stroke-width="1.4" stroke-linejoin="round"/>
<g stroke="#e2e6ea" stroke-width="1">
<line x1="160.5" y1="520" x2="160.5" y2="579"/><line x1="440.6" y1="520" x2="440.6" y2="579"/><line x1="720.4" y1="520" x2="720.4" y2="579"/><line x1="1002.2" y1="520" x2="1002.2" y2="579"/><line x1="1283" y1="520" x2="1283" y2="579"/>
</g>
<path d="M1283.2,579 L1283.2,562.5 L1285.7,562.9 L1288.2,562.5 L1290.8,562.6 L1293.3,561.9 L1295.8,562.3 L1298.4,561.9 L1301.0,562.6 L1303.5,562.4 L1306.1,562.1 L1308.7,563.0 L1311.3,562.8 L1313.8,563.0 L1316.4,562.4 L1319.0,563.2 L1321.6,562.5 L1324.1,563.3 L1326.7,563.0 L1329.3,563.1 L1331.9,564.4 L1334.4,566.0 L1337.0,567.4 L1339.6,569.0 L1342.1,569.4 L1344.7,570.8 L1347.3,570.8 L1349.9,571.6 L1352.5,571.2 L1355.1,570.5 L1357.6,570.0 L1360.2,570.0 L1362.8,569.6 L1365.3,569.4 L1367.9,569.4 L1370.5,569.4 L1373.1,569.3 L1375.6,569.7 L1378.2,569.1 L1380.8,569.2 L1383.3,568.8 L1385.9,569.0 L1388.5,568.9 L1391.0,568.7 L1393.6,569.0 L1396.2,568.8 L1398.8,569.6 L1401.3,569.5 L1403.9,569.5 L1406.5,569.4 L1409.1,569.8 L1411.6,570.4 L1414.2,569.8 L1416.8,570.6 L1419.3,570.4 L1421.9,570.6 L1424.5,570.8 L1427.1,571.1 L1429.6,570.7 L1432.2,570.8 L1434.8,571.0 L1437.4,571.3 L1439.9,570.6 L1442.5,571.1 L1445.1,571.0 L1447.7,570.9 L1450.2,570.7 L1452.8,570.6 L1455.4,570.4 L1458.0,570.4 L1460.5,570.4 L1463.1,570.8 L1465.7,571.3 L1468.3,571.1 L1470.8,571.3 L1473.4,571.5 L1476.0,572.6 L1478.6,572.9 L1481.1,573.0 L1483.7,572.9 L1486.3,573.4 L1488.9,572.9 L1491.4,572.8 L1494.0,572.8 L1496.6,572.6 L1499.2,572.3 L1501.8,572.7 L1504.3,572.6 L1506.9,573.4 L1509.5,573.5 L1512.1,573.2 L1514.6,573.0 L1517.2,573.8 L1519.8,573.4 L1519.8,579 Z" fill="#a6cfe6"/>
<polyline points="1283.2,562.5 1285.7,562.9 1288.2,562.5 1290.8,562.6 1293.3,561.9 1295.8,562.3 1298.4,561.9 1301.0,562.6 1303.5,562.4 1306.1,562.1 1308.7,563.0 1311.3,562.8 1313.8,563.0 1316.4,562.4 1319.0,563.2 1321.6,562.5 1324.1,563.3 1326.7,563.0 1329.3,563.1 1331.9,564.4 1334.4,566.0 1337.0,567.4 1339.6,569.0 1342.1,569.4 1344.7,570.8 1347.3,570.8 1349.9,571.6 1352.5,571.2 1355.1,570.5 1357.6,570.0 1360.2,570.0 1362.8,569.6 1365.3,569.4 1367.9,569.4 1370.5,569.4 1373.1,569.3 1375.6,569.7 1378.2,569.1 1380.8,569.2 1383.3,568.8 1385.9,569.0 1388.5,568.9 1391.0,568.7 1393.6,569.0 1396.2,568.8 1398.8,569.6 1401.3,569.5 1403.9,569.5 1406.5,569.4 1409.1,569.8 1411.6,570.4 1414.2,569.8 1416.8,570.6 1419.3,570.4 1421.9,570.6 1424.5,570.8 1427.1,571.1 1429.6,570.7 1432.2,570.8 1434.8,571.0 1437.4,571.3 1439.9,570.6 1442.5,571.1 1445.1,571.0 1447.7,570.9 1450.2,570.7 1452.8,570.6 1455.4,570.4 1458.0,570.4 1460.5,570.4 1463.1,570.8 1465.7,571.3 1468.3,571.1 1470.8,571.3 1473.4,571.5 1476.0,572.6 1478.6,572.9 1481.1,573.0 1483.7,572.9 1486.3,573.4 1488.9,572.9 1491.4,572.8 1494.0,572.8 1496.6,572.6 1499.2,572.3 1501.8,572.7 1504.3,572.6 1506.9,573.4 1509.5,573.5 1512.1,573.2 1514.6,573.0 1517.2,573.8 1519.8,573.4" fill="none" stroke="#2c6c95" stroke-width="1.8"/>
<g font-size="17" fill="#5a5a5a" letter-spacing="0.9">
<text x="165.5" y="573">2016</text>
<text x="446.5" y="573">2017</text>
<text x="727" y="573">2018</text>
<text x="1008" y="573">2019</text>
<text x="1289.5" y="573" fill="#3f5f73">2020</text>
</g>
<polyline points="95,519 1283.2,519 1283.2,579" fill="none" stroke="#4a4a4a" stroke-width="1.8"/>
<polyline points="1520,579 1520,519 1542,519" fill="none" stroke="#4a4a4a" stroke-width="1.8"/>
<!-- scrollbar -->
<rect x="94" y="579" width="1448" height="21" fill="url(#sbg)"/>
<line x1="94" y1="579.5" x2="1542" y2="579.5" stroke="#cfcfcf" stroke-width="1"/>
<line x1="94" y1="600" x2="1542" y2="600" stroke="#d6d6d6" stroke-width="1"/>
<rect x="1283.5" y="579.6" width="236.3" height="20.4" rx="3" fill="url(#thumb)" stroke="#6a6a6a" stroke-width="1.3"/>
<g stroke="#555" stroke-width="1.4"><line x1="1396.3" y1="584.8" x2="1396.3" y2="593.6"/><line x1="1401" y1="584.8" x2="1401" y2="593.6"/><line x1="1405.7" y1="584.8" x2="1405.7" y2="593.6"/></g>
<rect x="94" y="579.5" width="21.5" height="20.5" rx="3" fill="url(#btn)" stroke="#666" stroke-width="1.5"/>
<path d="M102.5,590.5 L107.3,586.6 L107.3,594.4 Z" fill="#555"/>
<rect x="1521" y="579.5" width="20.8" height="20.5" rx="3" fill="url(#btn)" stroke="#666" stroke-width="1.5"/>
<path d="M1535.5,590 L1530.5,586 L1530.5,594 Z" fill="#555"/>
<!-- handles -->
<rect x="1276" y="537.2" width="12.4" height="22" rx="4" fill="#fff" stroke="#555" stroke-width="1.5"/>
<g stroke="#555" stroke-width="1.2"><line x1="1280.5" y1="542.5" x2="1280.5" y2="554"/><line x1="1283.5" y1="542.5" x2="1283.5" y2="554"/></g>
<rect x="1514" y="537.2" width="12.4" height="22" rx="4" fill="#fff" stroke="#555" stroke-width="1.5"/>
<g stroke="#555" stroke-width="1.2"><line x1="1518.5" y1="542.5" x2="1518.5" y2="554"/><line x1="1521.5" y1="542.5" x2="1521.5" y2="554"/></g>
</svg>
</body></html>
